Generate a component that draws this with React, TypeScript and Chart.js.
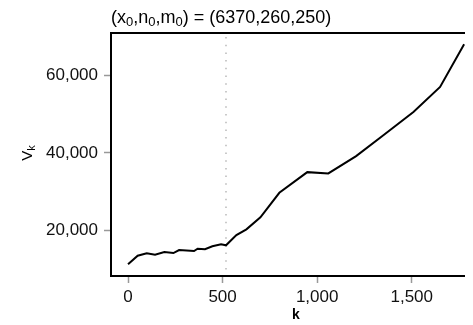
import React, { useEffect, useRef } from "react";
import { Chart, registerables } from "chart.js";

Chart.register(...registerables);

// ---- data ----
const K_VALUES = [0, 51, 99, 143, 192, 240, 270, 349, 368, 407, 446, 492, 518, 573, 626, 700, 800, 948, 1059, 1206, 1350, 1509, 1650, 1777];
const V_VALUES = [11230, 13450, 14070, 13700, 14400, 14140, 14920, 14660, 15250, 15100, 15870, 16390, 16130, 18790, 20260, 23350, 29700, 35040, 34710, 39170, 44590, 50600, 57050, 68070];
const X_TICKS = [0, 500, 1000, 1500];
const Y_TICKS = [20000, 40000, 60000];
const CUTOFF_K = 518;
const TITLE_PARTS: [string, boolean][] = [
  ["(x", false], ["0", true], [",n", false], ["0", true], [",m", false], ["0", true], [") = (6370,260,250)", false],
];
const Y_TITLE_PARTS: [string, boolean][] = [["V", false], ["k", true]];
const X_TITLE = "k";

const FONT = "'Liberation Sans', Arial, Helvetica, sans-serif";

function drawParts(ctx: CanvasRenderingContext2D, parts: [string, boolean][], x: number, y: number, size: number, subSize: number, subShift: number) {
  let cx = x;
  for (const [t, sub] of parts) {
    ctx.font = `${sub ? subSize : size}px ${FONT}`;
    ctx.fillText(t, cx, sub ? y + subShift : y);
    cx += ctx.measureText(t).width;
  }
  return cx - x;
}
function measureParts(ctx: CanvasRenderingContext2D, parts: [string, boolean][], size: number, subSize: number) {
  let w = 0;
  for (const [t, sub] of parts) {
    ctx.font = `${sub ? subSize : size}px ${FONT}`;
    w += ctx.measureText(t).width;
  }
  return w;
}

const decorPlugin = {
  id: "decor",
  beforeDatasetsDraw(chart: any) {
    const { ctx, chartArea, scales } = chart;
    const x = scales.x.getPixelForValue(CUTOFF_K);
    ctx.save();
    ctx.strokeStyle = "#b8b8b8";
    ctx.lineWidth = 1.5;
    ctx.setLineDash([1.5, 6.2]);
    ctx.beginPath();
    ctx.moveTo(x, chartArea.top + 4);
    ctx.lineTo(x, chartArea.bottom);
    ctx.stroke();
    ctx.restore();
  },
  afterDraw(chart: any) {
    const { ctx, chartArea } = chart;
    ctx.save();
    // box
    ctx.strokeStyle = "#000";
    ctx.lineWidth = 2;
    ctx.strokeRect(chartArea.left, chartArea.top, chartArea.right - chartArea.left + 2, chartArea.bottom - chartArea.top);
    // title
    ctx.fillStyle = "#000";
    ctx.textBaseline = "alphabetic";
    ctx.textAlign = "left";
    drawParts(ctx, TITLE_PARTS, chartArea.left, 15, 18, 13, 3);
    // x title
    ctx.font = `bold 14px ${FONT}`;
    ctx.textAlign = "center";
    ctx.fillText(X_TITLE, 288, 311);
    // y title
    ctx.textAlign = "left";
    const w = measureParts(ctx, Y_TITLE_PARTS, 15, 11);
    ctx.translate(23.5, 145);
    ctx.rotate(-Math.PI / 2);
    drawParts(ctx, Y_TITLE_PARTS, -w / 2, 0, 15, 11, 3);
    ctx.restore();
  },
};

const tickFont = { family: FONT, size: 17 };

export default function App() {
  const ref = useRef<HTMLCanvasElement>(null);
  useEffect(() => {
    document.body.style.overflow = "hidden";
    const chart = new Chart(ref.current!, {
      type: "line",
      data: {
        datasets: [
          {
            data: K_VALUES.map((k, i) => ({ x: k, y: V_VALUES[i] })),
            borderColor: "#000",
            borderWidth: 2,
            pointRadius: 0,
            tension: 0,
            fill: false,
          },
        ],
      },
      options: {
        animation: false,
        responsive: false,
        devicePixelRatio: 1,
        layout: { padding: { top: 25, left: 0, right: 0, bottom: 0 } },
        plugins: { legend: { display: false }, tooltip: { enabled: false }, title: { display: false } },
        scales: {
          x: {
            type: "linear",
            min: -90,
            max: 1824,
            afterFit: (s: any) => { s.height = 49; },
            afterBuildTicks: (s: any) => { s.ticks = X_TICKS.map((v) => ({ value: v })); },
            grid: { drawOnChartArea: false, drawTicks: true, tickLength: 7, tickColor: "#999", tickWidth: 1.5 },
            border: { display: false },
            ticks: {
              padding: 4,
              color: "#111",
              font: tickFont,
              maxRotation: 0,
              autoSkip: false,
              callback: (v: any) => Number(v).toLocaleString("en-US"),
            },
          },
          y: {
            type: "linear",
            min: 8200,
            max: 71000,
            afterFit: (s: any) => { s.width = 103; },
            afterBuildTicks: (s: any) => { s.ticks = Y_TICKS.map((v) => ({ value: v })); },
            grid: { drawOnChartArea: false, drawTicks: true, tickLength: 7, tickColor: "#999", tickWidth: 1.5 },
            border: { display: false },
            ticks: {
              padding: 6,
              color: "#111",
              font: tickFont,
              autoSkip: false,
              callback: (v: any) => Number(v).toLocaleString("en-US"),
            },
          },
        },
      },
      plugins: [decorPlugin],
    } as any);
    return () => chart.destroy();
  }, []);
  return <canvas ref={ref} width={465} height={317} style={{ display: "block" }} />;
}
